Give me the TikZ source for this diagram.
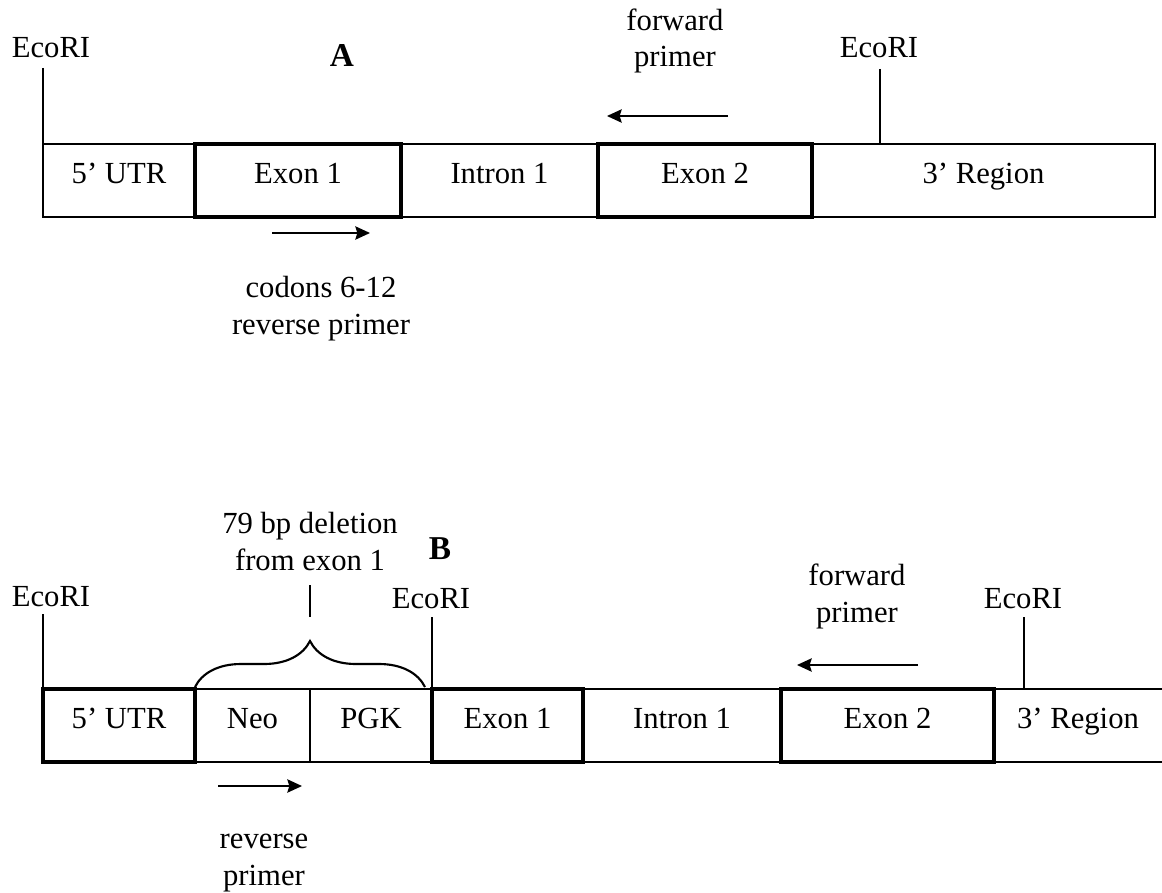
\documentclass[tikz,border=0pt]{standalone}
\usepackage{fontspec}
\setmainfont{Liberation Serif}
\usetikzlibrary{positioning, arrows.meta, decorations.pathreplacing}
\tikzset{
    seg/.style={draw, line width=1.4pt, inner sep=0pt, outer sep=0pt, minimum height=54.75pt, text height=0.68em, text depth=0.22em}, % plain segment
    exon/.style={seg, line width=3.2pt}, % thick box for exons
    primer/.style={line width=1.3pt, -{Stealth[length=11pt, width=10pt, inset=1.5pt]}}, % primer arrows
    cut/.style={line width=1.4pt}, % EcoRI site marks
    lbl/.style={align=center, inner sep=0pt}, % free labels
}

\begin{document}
\begin{tikzpicture}[x=0.75pt, y=-0.75pt, font=\fontsize{23}{27.5}\selectfont]
    \useasboundingbox (0,0) rectangle (1162,892);

    % Wild type locus (A)
    \node[seg, minimum width=114pt, anchor=west] (utrA) at (43,180.5) {5’ UTR};
    \node[exon, minimum width=154.5pt, right=0pt of utrA] (exaA) {Exon 1};
    \node[seg, minimum width=147.75pt, right=0pt of exaA] (intA) {Intron 1};
    \node[exon, minimum width=160.5pt, right=0pt of intA] (exbA) {Exon 2};
    \node[seg, minimum width=257.25pt, right=0pt of exbA] (regA) {3’ Region};

    \node[lbl, anchor=base, font=\fontsize{25}{30}\selectfont\bfseries] (titleA) at (342,67) {A};

    % EcoRI sites
    \node[lbl, anchor=base] (ecoA1) at (51,58) {EcoRI};
    \node[lbl, anchor=base] (ecoA2) at (879,58) {EcoRI};
    \coordinate (cutA1) at (43,68);
    \coordinate (cutA2) at (880,69);
    \draw[cut] (cutA1) -- (utrA.north west);
    \draw[cut] (cutA2) -- (cutA2 |- regA.north);

    % Primers
    \node[lbl, anchor=base] (fwdA) at (675,67) {forward\\primer};
    \coordinate (fwA1) at (728,116);
    \coordinate (fwA2) at (607,116);
    \draw[primer] (fwA1) -- (fwA2);
    \coordinate (rvA1) at (272,233);
    \coordinate (rvA2) at (370,233);
    \draw[primer] (rvA1) -- (rvA2);
    \node[lbl, anchor=base] (revA) at (321,334) {codons 6-12\\reverse primer};

    % Targeted locus (B)
    \node[exon, minimum width=114pt, anchor=west] (utrB) at (43,725.5) {5’ UTR};
    \node[seg, minimum width=86.25pt, right=0pt of utrB] (neoB) {Neo};
    \node[seg, minimum width=91.5pt, right=0pt of neoB] (pgkB) {PGK};
    \node[exon, minimum width=113.25pt, right=0pt of pgkB] (exaB) {Exon 1};
    \node[seg, minimum width=148.5pt, right=0pt of exaB] (intB) {Intron 1};
    \node[exon, minimum width=159.75pt, right=0pt of intB] (exbB) {Exon 2};
    \node[seg, draw=none, minimum width=126pt, right=0pt of exbB] (regB) {3’ Region};
    \draw[cut] (regB.north west) -- (regB.north east)
               (regB.south west) -- (regB.south east);

    \node[lbl, anchor=base, font=\fontsize{25}{30}\selectfont\bfseries] (titleB) at (440,559) {B};

    % Deleted part of exon 1
    \coordinate (brL) at (195,687);
    \coordinate (brR) at (425,687);
    \draw[line width=1.6pt, decorate, decoration={brace, amplitude=34.5pt}] (brL) -- (brR);
    \node[lbl, anchor=base] (delB) at (310,570) {79 bp deletion\\from exon 1};
    \coordinate (delT) at (310,585);
    \coordinate (delD) at (310,617);
    \draw[cut] (delT) -- (delD);

    % EcoRI sites
    \node[lbl, anchor=base] (ecoB1) at (51,606) {EcoRI};
    \node[lbl, anchor=base] (ecoB2) at (431,608) {EcoRI};
    \node[lbl, anchor=base] (ecoB3) at (1023,608) {EcoRI};
    \coordinate (cutB1) at (43,614);
    \coordinate (cutB2) at (432,617);
    \coordinate (cutB3) at (1024,617);
    \draw[cut] (cutB1) -- (utrB.north west);
    \draw[cut] (cutB2) -- (exaB.north west);
    \draw[cut] (cutB3) -- (cutB3 |- regB.north);

    % Primers
    \node[lbl, anchor=base] (fwdB) at (857,622) {forward\\primer};
    \coordinate (fwB1) at (918,665);
    \coordinate (fwB2) at (797,665);
    \draw[primer] (fwB1) -- (fwB2);
    \coordinate (rvB1) at (218,786);
    \coordinate (rvB2) at (302,786);
    \draw[primer] (rvB1) -- (rvB2);
    \node[lbl, anchor=base] (revB) at (264,885) {reverse\\primer};
\end{tikzpicture}
\end{document}
